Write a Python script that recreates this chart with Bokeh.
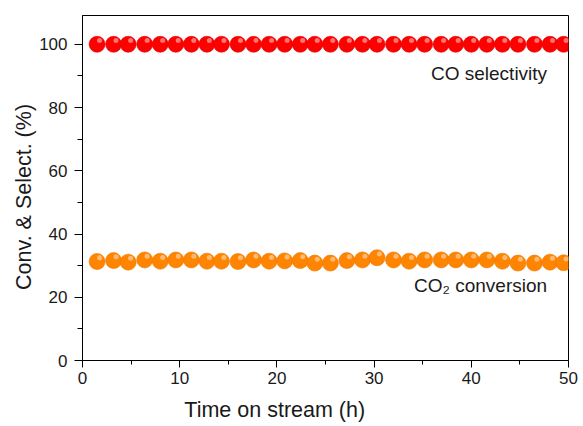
from bokeh.plotting import figure
from bokeh.models import ColumnDataSource, FixedTicker, Range1d
from bokeh.transform import dodge
from bokeh.core.properties import value
from bokeh.embed import file_html
from bokeh.resources import INLINE

# ---- data ----
time_h = [1.5, 3.2, 4.7, 6.4, 8.0, 9.6, 11.2, 12.8, 14.3, 16.0, 17.6, 19.2, 20.8, 22.4,
          23.9, 25.5, 27.2, 28.8, 30.3, 32.0, 33.6, 35.2, 36.9, 38.4, 40.0, 41.6, 43.2,
          44.8, 46.5, 48.1, 49.5]
co_selectivity = [100.0] * 31
co2_conversion = [31.3, 31.6, 31.1, 31.8, 31.4, 31.8, 31.8, 31.4, 31.4, 31.3, 31.8, 31.4,
                  31.5, 31.6, 30.8, 30.8, 31.6, 31.8, 32.5, 31.8, 31.4, 31.8, 31.8, 31.8,
                  31.8, 31.8, 31.4, 30.8, 30.8, 31.1, 30.9]
x_ticks = [0, 10, 20, 30, 40, 50]
x_minor = [5, 15, 25, 35, 45]
y_ticks = [0, 20, 40, 60, 80, 100]
y_minor = [10, 30, 50, 70, 90]
label_sel = "CO selectivity"
label_conv = "CO\u2082 conversion"
x_title = "Time on stream (h)"
y_title = "Conv. & Select. (%)"

FONT = "Liberation Sans"
TXT = "#1a1a1a"
NBSP = "\u00a0"

p = figure(width=583, height=426, output_backend="svg", toolbar_location=None,
           x_range=Range1d(0, 50), y_range=Range1d(0, 109.1),
           min_border_left=82, min_border_right=15, min_border_top=15, min_border_bottom=66)
p.background_fill_color = "white"
p.border_fill_color = "white"
p.outline_line_color = "black"
p.outline_line_width = 1
p.xgrid.visible = False
p.ygrid.visible = False

src_sel = ColumnDataSource(dict(x=time_h, y=co_selectivity))
src_conv = ColumnDataSource(dict(x=time_h, y=co2_conversion))

p.scatter("x", "y", source=src_sel, size=16, fill_color="#ff0000", line_color="#e00000", line_width=0.6)
p.scatter(dodge("x", 0.25, range=p.x_range), dodge("y", 1.2, range=p.y_range), source=src_sel,
          size=5, fill_color="#ff9090", line_color=None, fill_alpha=0.8)
p.scatter("x", "y", source=src_conv, size=16, fill_color="#ff8400", line_color="#ee7800", line_width=0.6)
p.scatter(dodge("x", 0.25, range=p.x_range), dodge("y", 1.2, range=p.y_range), source=src_conv,
          size=5, fill_color="#ffc890", line_color=None, fill_alpha=0.8)

p.text(x=[47.8], y=[90.7], text=[label_sel], text_align="right", text_baseline="middle",
       text_font=value(FONT), text_font_size="19px", text_color=TXT)
p.text(x=[47.8], y=[23.7], text=[label_conv], text_align="right", text_baseline="middle",
       text_font=value(FONT), text_font_size="19px", text_color=TXT)

xa = p.xaxis[0]
xa.ticker = FixedTicker(ticks=x_ticks, minor_ticks=x_minor)
# trailing no-break spaces shift the centred title left, as in the reference
xa.axis_label = x_title + NBSP * 17
xa.major_tick_out = 7
xa.major_tick_in = 0
xa.minor_tick_out = 4
xa.minor_tick_in = 0
xa.major_label_standoff = 4
xa.axis_label_standoff = 11

ya = p.yaxis[0]
ya.ticker = FixedTicker(ticks=y_ticks, minor_ticks=y_minor)
ya.axis_label = y_title + NBSP * 3
ya.major_tick_out = 8
ya.major_tick_in = 0
ya.minor_tick_out = 5
ya.minor_tick_in = 0
ya.major_label_standoff = 7
ya.axis_label_standoff = 0

for ax in (xa, ya):
    ax.axis_line_color = "black"
    ax.major_tick_line_color = "black"
    ax.minor_tick_line_color = "black"
    ax.major_label_text_font = FONT
    ax.major_label_text_font_size = "17px"
    ax.major_label_text_color = TXT
    ax.axis_label_text_font = FONT
    ax.axis_label_text_font_size = "21.5px"
    ax.axis_label_text_font_style = "normal"
    ax.axis_label_text_color = TXT

open("out.html", "w").write(file_html(p, INLINE))
